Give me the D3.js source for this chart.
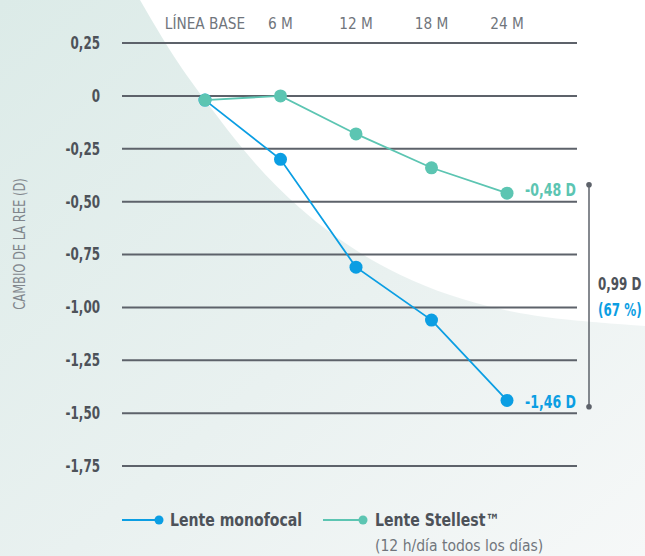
<!DOCTYPE html>
<html>
<head>
<meta charset="utf-8">
<script src="https://cdn.jsdelivr.net/npm/d3@7"></script>
<style>
  body { margin: 0; background: #fff; }
  svg { display: block; font-family: "DejaVu Sans", sans-serif; font-stretch: condensed; }
</style>
</head>
<body>
<svg id="main" width="645" height="556"></svg>
<script>
// categories (top axis) and tick labels
var periods = ["LÍNEA BASE", "6 M", "12 M", "18 M", "24 M"];
var yTicks = [0.25, 0, -0.25, -0.5, -0.75, -1.0, -1.25, -1.5, -1.75];

// series values
var monofocal = [-0.02, -0.30, -0.81, -1.06, -1.44];
var stellest = [-0.02, 0.0, -0.18, -0.34, -0.46];

// labels
var endLabels = ["-0,48 D", "-1,46 D"];
var diffLabels = ["0,99 D", "(67 %)"];

var blue = "#0b9ee3", teal = "#5cc5b2", gridCol = "#5d626a", textCol = "#4d5259";

var svg = d3.select("#main");

// squeeze text horizontally to mimic the condensed face
function squeeze(sel, f) {
  sel.each(function() {
    var w = this.getComputedTextLength();
    d3.select(this).attr("textLength", w * f).attr("lengthAdjust", "spacingAndGlyphs");
  });
}

// background shape
var defs = svg.append("defs");
var grad = defs.append("linearGradient").attr("id", "bg")
  .attr("x1", 0).attr("y1", 0).attr("x2", 1).attr("y2", 1);
grad.append("stop").attr("offset", "0%").attr("stop-color", "#dcebe8");
grad.append("stop").attr("offset", "55%").attr("stop-color", "#e9f1f0");
grad.append("stop").attr("offset", "100%").attr("stop-color", "#f6f8f8");

var curve = [[140, 0], [175, 60], [205, 100], [250, 160], [300, 210], [350, 248], [400, 276], [450, 296], [500, 310], [560, 320], [645, 326]];
var area = d3.line().curve(d3.curveBasis);
svg.append("path")
  .attr("d", area(curve) + "L645,556L0,556L0,0Z")
  .attr("fill", "url(#bg)");

var x = d3.scalePoint().domain(periods).range([205, 507]);
var y = d3.scaleLinear().domain([0.25, -1.75]).range([43, 466]);

// grid lines
svg.append("g").selectAll("line").data(yTicks).join("line")
  .attr("x1", 122).attr("x2", 577)
  .attr("y1", function(d) { return y(d); }).attr("y2", function(d) { return y(d); })
  .attr("stroke", gridCol).attr("stroke-width", 2);

// y tick labels
var fmt = function(d) {
  if (d === 0) return "0";
  return d3.format(".2f")(d).replace(".", ",").replace("−", "-");
};
svg.append("g").selectAll("text").data(yTicks).join("text")
  .attr("x", 100).attr("y", function(d) { return y(d); })
  .attr("dy", "0.35em").attr("text-anchor", "end")
  .attr("font-size", 17).attr("font-weight", "bold").attr("fill", textCol)
  .text(fmt)
  .call(squeeze, 0.78);

// top labels
svg.append("g").selectAll("text").data(periods).join("text")
  .attr("x", function(d) { return x(d); }).attr("y", 23)
  .attr("dy", "0.35em").attr("text-anchor", "middle")
  .attr("font-size", 16).attr("fill", "#70757c")
  .text(function(d) { return d; })
  .call(squeeze, 0.95);

// y axis title
svg.append("text")
  .attr("transform", "translate(20,244) rotate(-90)")
  .attr("text-anchor", "middle").attr("dy", "0.35em")
  .attr("font-size", 15).attr("fill", "#80858b")
  .text("CAMBIO DE LA REE (D)")
  .call(squeeze, 0.85);

// series
var line = d3.line()
  .x(function(d, i) { return x(periods[i]); })
  .y(function(d) { return y(d); });

function drawSeries(values, color) {
  svg.append("path").datum(values)
    .attr("d", line).attr("fill", "none")
    .attr("stroke", color).attr("stroke-width", 1.8);
  svg.append("g").selectAll("circle").data(values).join("circle")
    .attr("cx", function(d, i) { return x(periods[i]); })
    .attr("cy", function(d) { return y(d); })
    .attr("r", 6.5).attr("fill", color);
}
drawSeries(monofocal, blue);
drawSeries(stellest, teal);

// end labels
svg.append("text").attr("x", 525).attr("y", y(stellest[4]) - 3).attr("dy", "0.35em")
  .attr("font-size", 17).attr("font-weight", "bold").attr("fill", teal).text(endLabels[0])
  .call(squeeze, 0.82);
svg.append("text").attr("x", 525).attr("y", y(monofocal[4]) + 2).attr("dy", "0.35em")
  .attr("font-size", 17).attr("font-weight", "bold").attr("fill", blue).text(endLabels[1])
  .call(squeeze, 0.82);

// difference bracket
var bTop = y(-0.42), bBot = y(-1.47);
svg.append("line").attr("x1", 589).attr("x2", 589).attr("y1", bTop).attr("y2", bBot)
  .attr("stroke", gridCol).attr("stroke-width", 1.5);
svg.append("circle").attr("cx", 589).attr("cy", bTop).attr("r", 2.8).attr("fill", gridCol);
svg.append("circle").attr("cx", 589).attr("cy", bBot).attr("r", 2.8).attr("fill", gridCol);
// scaled with a transform so the box of the text stays inside the page
svg.append("g").attr("transform", "translate(598,284) scale(0.78,1)")
  .append("text").attr("dy", "0.35em")
  .attr("font-size", 17).attr("font-weight", "bold").attr("fill", textCol).text(diffLabels[0]);
svg.append("g").attr("transform", "translate(598,310) scale(0.78,1)")
  .append("text").attr("dy", "0.35em")
  .attr("font-size", 17).attr("font-weight", "bold").attr("fill", blue).text(diffLabels[1]);

// legend
var legend = [
  {label: "Lente monofocal", color: blue, x0: 122, x1: 159, tx: 170},
  {label: "Lente Stellest™", color: teal, x0: 323, x1: 363, tx: 375}
];
var lg = svg.append("g").selectAll("g").data(legend).join("g");
lg.append("line")
  .attr("x1", function(d) { return d.x0; }).attr("x2", function(d) { return d.x1; })
  .attr("y1", 520).attr("y2", 520)
  .attr("stroke", function(d) { return d.color; }).attr("stroke-width", 1.8);
lg.append("circle").attr("cx", function(d) { return d.x1; }).attr("cy", 520)
  .attr("r", 4.5).attr("fill", function(d) { return d.color; });
lg.append("text").attr("x", function(d) { return d.tx; }).attr("y", 520).attr("dy", "0.35em")
  .attr("font-size", 17).attr("font-weight", "bold").attr("fill", textCol)
  .text(function(d) { return d.label; })
  .call(squeeze, 0.92);
svg.append("text").attr("x", 375).attr("y", 545).attr("dy", "0.35em")
  .attr("font-size", 16).attr("fill", "#70757c").text("(12 h/día todos los días)")
  .call(squeeze, 0.97);
</script>
</body>
</html>
